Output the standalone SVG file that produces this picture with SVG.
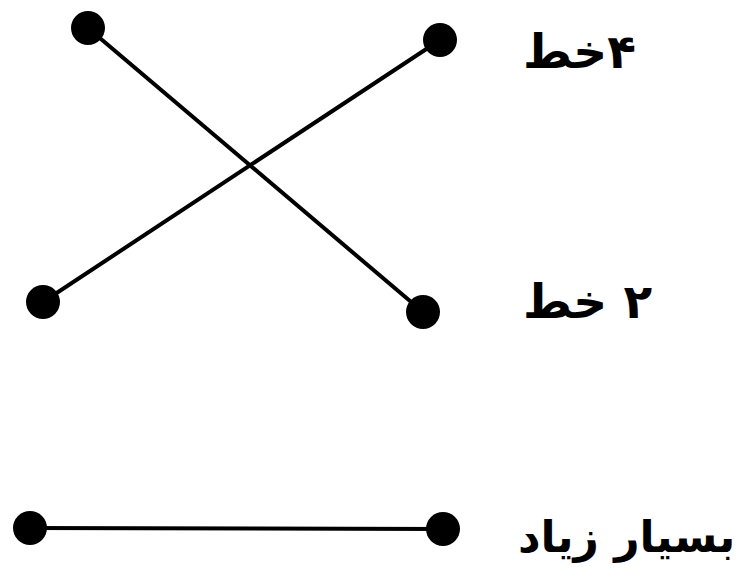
<svg xmlns="http://www.w3.org/2000/svg" width="753" height="582" viewBox="0 0 753 582">
<style>
.edge{stroke:#000;stroke-width:4;stroke-linecap:round;fill:none}
.dot{fill:#000}
.lbl{font-family:"DejaVu Sans","Noto Sans",sans-serif;font-weight:bold;font-size:47px;fill:#000;direction:rtl;unicode-bidi:embed;text-anchor:end}
</style>
<rect width="753" height="582" fill="#fff"/>
<g id="connectors">
<line class="edge" x1="88" y1="28" x2="423" y2="312"/>
<line class="edge" x1="440" y1="40" x2="43" y2="302"/>
<line class="edge" x1="30" y1="528" x2="443" y2="529"/>
</g>
<g id="n1"><circle class="dot" cx="88" cy="28" r="17"/></g>
<g id="n2"><circle class="dot" cx="440" cy="40" r="17"/></g>
<g id="n3"><circle class="dot" cx="43" cy="302" r="17"/></g>
<g id="n4"><circle class="dot" cx="423" cy="312" r="17"/></g>
<g id="n5"><circle class="dot" cx="30" cy="528" r="17"/></g>
<g id="n6"><circle class="dot" cx="443" cy="529" r="17"/></g>
<g id="labels">
<text class="lbl" x="523" y="68" direction="rtl">۴خط</text>
<text class="lbl" x="523" y="318" direction="rtl">۲ خط</text>
<text class="lbl" x="518" y="552" direction="rtl" style="font-size:44px">بسیار زیاد</text>
</g>
</svg>
